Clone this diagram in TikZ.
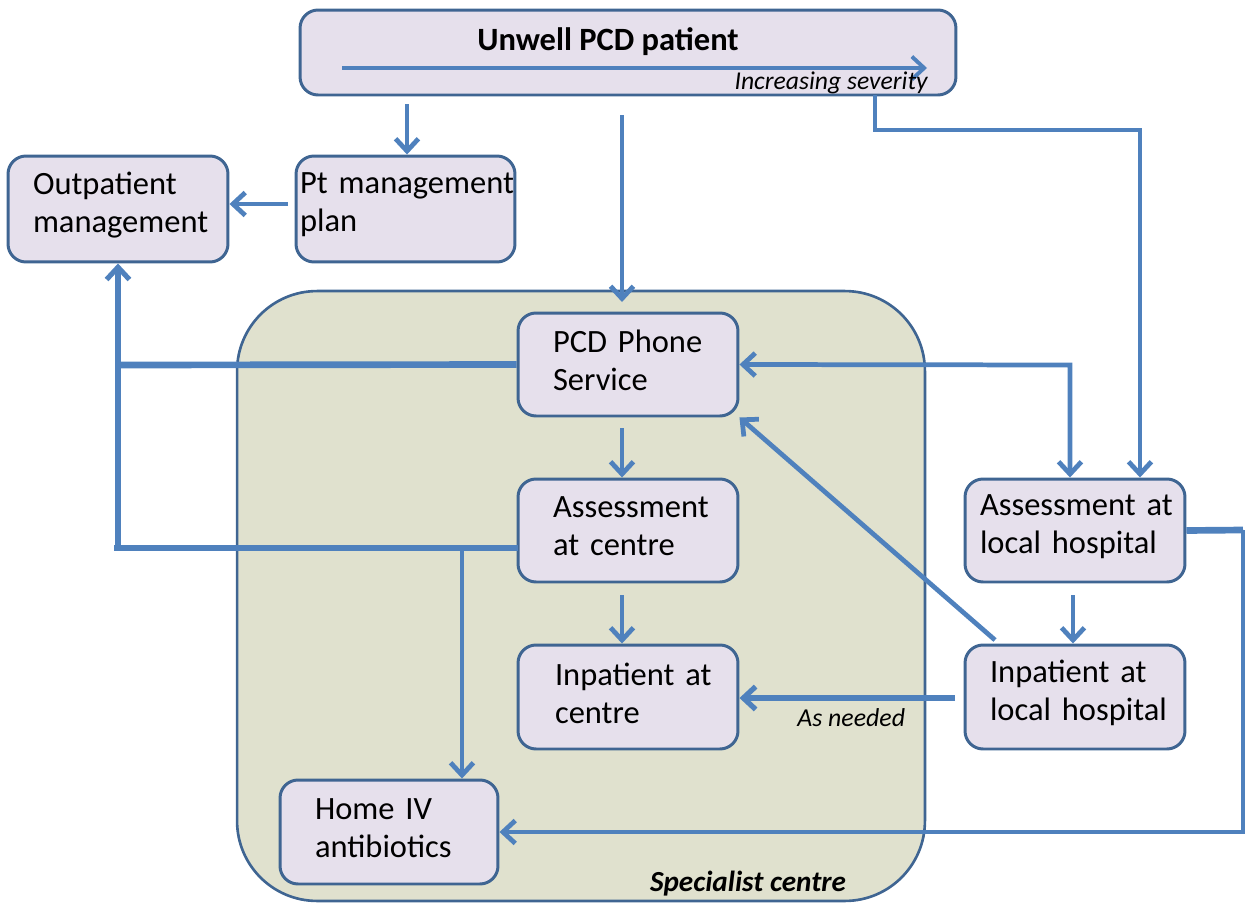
\documentclass[tikz,border=0pt]{standalone}
\usepackage{fontspec}
\setmainfont{Carlito}
\usetikzlibrary{arrows.meta}
\definecolor{lineblue}{HTML}{4F81BD}
\definecolor{boxedge}{HTML}{3F6592}
\definecolor{boxfill}{HTML}{E6E0EC}
\definecolor{specfill}{HTML}{E0E1CE}
\begin{document}
\begin{tikzpicture}[x=0.02cm,y=-0.02cm,
  >={Straight Barb[length=7pt,width=13pt]},
  box/.style={draw=boxedge, fill=boxfill, line width=1.7pt, rounded corners=0.36cm,
    minimum height=2.08cm, align=left, inner ysep=0pt, text=black,
    font=\fontsize{18.5}{21.6}\selectfont, execute at end node={\endgraf\kern4.6pt}},
  ln/.style={draw=lineblue, line width=2.7pt},
  arr/.style={ln, ->},
  thk/.style={line width=3.8pt}]
\useasboundingbox (0,0) rectangle (1249,903);

% specialist centre region
\node[draw=boxedge, fill=specfill, line width=1.5pt, rounded corners=1.6cm,
  minimum width=13.76cm, minimum height=12.2cm] (spec) at (581,596) {};
\node[font=\bfseries\itshape\fontsize{16.6}{19}\selectfont, anchor=base, inner sep=0pt] (speclbl) at (748,891) {Specialist centre};

% top box
\node[draw=boxedge, fill=boxfill, line width=1.7pt, rounded corners=0.36cm, minimum width=13.12cm, minimum height=1.7cm, inner sep=0pt] (top) at (628,52.5) {};
\node[font=\bfseries\fontsize{18.5}{21.6}\selectfont, anchor=base] (title) at (608,50) {Unwell PCD patient};
\coordinate (sevs) at (342,68);
\coordinate (seve) at (927,68);
\draw[arr, line width=2.2pt] (sevs) -- (seve);
\node[font=\itshape\fontsize{14.6}{17}\selectfont, anchor=base east, inner sep=0pt] (sev) at (928,89) {Increasing severity};

% boxes
\node[box, text width=3.4cm, inner xsep=0.5cm, minimum height=2.12cm] (outp) at (118,209) {\mbox{Outpatient}\\\mbox{management}};
\node[box, text width=4.22cm, inner xsep=0.08cm, minimum height=2.12cm] (ptplan) at (405.5,209) {\mbox{Pt management}\\\mbox{plan}};
\node[box, text width=3.0cm, inner xsep=0.7cm, minimum height=2.06cm] (phone) at (628,364.5) {\mbox{PCD Phone}\\\mbox{Service}};
\node[box, text width=3.0cm, inner xsep=0.7cm, minimum height=2.06cm] (assesc) at (628,530.5) {\mbox{Assessment}\\\mbox{at centre}};
\node[box, text width=2.92cm, inner xsep=0.74cm] (inpc) at (628,697) {\mbox{Inpatient at}\\\mbox{centre}};
\node[box, text width=2.96cm, inner xsep=0.7cm] (homeiv) at (389,832) {\mbox{Home IV}\\\mbox{antibiotics}};
\node[box, text width=3.8cm, inner xsep=0.3cm, minimum height=2.06cm] (assesl) at (1075,530.5) {\mbox{Assessment at}\\\mbox{local hospital}};
\node[box, text width=3.4cm, inner xsep=0.5cm] (inpl) at (1075,697) {\mbox{Inpatient at}\\\mbox{local hospital}};

% connectors
\coordinate (a1) at (407,104);
\draw[arr] (a1) -- (a1 |- ptplan.north);
\coordinate (a2) at (622,115);
\coordinate (a2e) at (622,302);
\draw[arr] (a2) -- (a2e);
\coordinate (a3) at (875,95);
\coordinate (b3) at (1140,130);
\draw[arr] (a3) |- (b3) -- (b3 |- assesl.north);
\coordinate (a4) at (288,204);
\draw[arr] (a4) -- (a4 -| outp.east);

\coordinate (jn) at (118,365);
\draw[ln, thk] (phone.west) -- (jn);
\coordinate (aw) at (518,548);
\coordinate (cn) at (114,548);
\draw[ln, thk] (aw) -- (cn);
\coordinate (cv) at (118,550);
\draw[arr, line width=2.9pt] (cv) -- (cv |- outp.south);
\coordinate (hv) at (462,548);
\draw[arr] (hv) -- (hv |- homeiv.north);

\coordinate (a6) at (622,428);
\draw[arr] (a6) -- (a6 |- assesc.north);
\coordinate (a7) at (622,595);
\draw[arr] (a7) -- (a7 |- inpc.north);

\coordinate (b1) at (1070,365);
\draw[ln, <->] (phone.east) -- (b1) -- (b1 |- assesl.north);
\coordinate (c1) at (995,640);
\draw[arr] (c1) -- (phone.south east);
\coordinate (a8) at (1073,595);
\draw[arr] (a8) -- (a8 |- inpl.north);
\coordinate (c2) at (955,698);
\draw[arr, line width=3pt] (c2) -- (c2 -| inpc.east);
\node[font=\itshape\fontsize{14.7}{17}\selectfont, anchor=base west, inner sep=0pt] (asn) at (797,726) {As needed};

\coordinate (d1) at (1243,530);
\draw[ln, thk] (assesl.east) -- (d1);
\draw[arr] (d1) |- (homeiv.east);
\end{tikzpicture}
\end{document}
